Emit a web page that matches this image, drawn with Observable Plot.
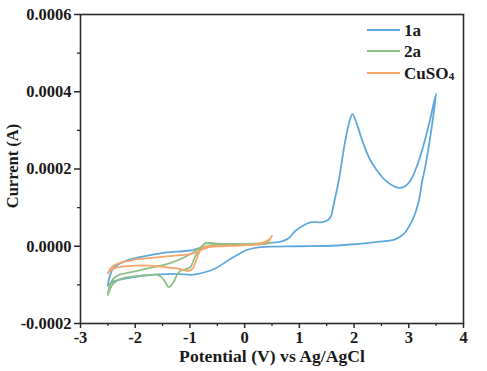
<!DOCTYPE html>
<html>
<head>
<meta charset="utf-8">
<script src="https://cdn.jsdelivr.net/npm/d3@7"></script>
<script src="https://cdn.jsdelivr.net/npm/@observablehq/plot@0.6"></script>
<style>
  html, body { margin: 0; padding: 0; background: #fff; }
</style>
</head>
<body>
<div id="chart"></div>
<script>
// ---- Data (potential in V vs Ag/AgCl, current in units of 1e-4 A) ----
const seriesNames = ["1a", "2a", "CuSO4"];
const seriesColors = ["#5fa8dc", "#8fbe88", "#f6a66c"];

const potential1a = [-2.50, -2.46, -2.39, -2.21, -2.03, -1.60, -1.42, -1.00, -0.81, -0.60, -0.30, 0.00, 0.40, 0.66, 0.80, 0.93, 1.05, 1.20, 1.39, 1.50, 1.57, 1.63, 1.72, 1.84, 1.92, 1.97, 2.03, 2.10, 2.18, 2.30, 2.42, 2.52, 2.61, 2.72, 2.82, 2.92, 3.03, 3.15, 3.27, 3.38, 3.50, 3.40, 3.30, 3.24, 3.18, 3.09, 3.00, 2.91, 2.75, 2.48, 1.69, 1.00, 0.47, 0.20, 0.05, -0.08, -0.26, -0.56, -0.87, -1.00, -1.17, -1.42, -1.60, -2.03, -2.39, -2.50];
const current1a = [-1.02, -0.75, -0.55, -0.40, -0.32, -0.20, -0.16, -0.11, -0.04, 0.00, 0.03, 0.06, 0.08, 0.12, 0.20, 0.40, 0.52, 0.62, 0.62, 0.66, 0.75, 1.10, 1.70, 2.74, 3.25, 3.42, 3.25, 2.95, 2.62, 2.22, 1.96, 1.78, 1.66, 1.56, 1.51, 1.54, 1.70, 2.08, 2.62, 3.22, 3.96, 2.90, 2.05, 1.65, 1.15, 0.75, 0.50, 0.32, 0.18, 0.12, 0.02, 0.00, -0.01, -0.04, -0.09, -0.18, -0.33, -0.59, -0.72, -0.74, -0.72, -0.72, -0.73, -0.80, -0.91, -1.02];

const potential2a = [-2.50, -2.45, -2.33, -2.03, -1.70, -1.42, -1.17, -0.99, -0.81, -0.70, -0.50, -0.20, 0.10, 0.30, 0.50, 0.30, 0.00, -0.30, -0.60, -0.72, -0.80, -0.90, -1.00, -1.17, -1.25, -1.30, -1.39, -1.45, -1.52, -1.60, -1.90, -2.20, -2.33, -2.42, -2.50];
const current2a = [-1.26, -0.95, -0.76, -0.66, -0.55, -0.46, -0.33, -0.20, -0.03, 0.08, 0.07, 0.06, 0.06, 0.07, 0.10, 0.05, 0.04, 0.04, 0.06, 0.08, -0.05, -0.25, -0.55, -0.63, -0.78, -0.93, -1.06, -0.93, -0.80, -0.74, -0.76, -0.82, -0.89, -1.00, -1.26];

const potentialCu = [-2.50, -2.45, -2.39, -2.20, -2.03, -1.70, -1.42, -1.17, -0.95, -0.80, -0.65, -0.40, -0.10, 0.20, 0.35, 0.45, 0.50, 0.42, 0.30, 0.00, -0.40, -0.68, -0.75, -0.81, -0.87, -0.95, -1.02, -1.17, -1.40, -1.72, -2.00, -2.33, -2.45, -2.50];
const currentCu = [-0.70, -0.58, -0.50, -0.40, -0.35, -0.30, -0.26, -0.23, -0.19, -0.10, -0.02, 0.00, 0.02, 0.05, 0.10, 0.18, 0.27, 0.12, 0.06, 0.03, 0.01, 0.00, -0.02, -0.11, -0.30, -0.58, -0.64, -0.59, -0.55, -0.50, -0.50, -0.55, -0.62, -0.70];

const xTicks = [-3, -2, -1, 0, 1, 2, 3, 4];
const xMinorTicks = [-2.5, -1.5, -0.5, 0.5, 1.5, 2.5, 3.5];
const yTicks = [-0.0002, 0, 0.0002, 0.0004, 0.0006];
const yMinorTicks = [-0.0001, 0.0001, 0.0003, 0.0005];

const xLabel = "Potential (V) vs Ag/AgCl";
const yLabel = "Current (A)";

// ---- Build tidy table ----
function toRows(name, xs, ys) {
  return xs.map((v, i) => ({series: name, potential: v, current: ys[i] * 1e-4}));
}
const rows1a = toRows(seriesNames[0], potential1a, current1a);
const rows2a = toRows(seriesNames[1], potential2a, current2a);
const rowsCu = toRows(seriesNames[2], potentialCu, currentCu);

const font = "'Liberation Serif', 'Times New Roman', Times, serif";
const axisColor = "#2a2a2a";
const stretch = 1.07;
const tickText = {fontFamily: font, fontWeight: "bold", fontSize: 16.5, fill: "#1a1a1a"};

const lineOpts = (color) => ({x: "potential", y: "current", stroke: color, strokeWidth: 1.8, curve: "catmull-rom"});

const svg = Plot.plot({
  width: 487,
  height: 371,
  marginLeft: 80,
  marginRight: 24,
  marginTop: 14,
  marginBottom: 48,
  x: {domain: [-3, 4]},
  y: {domain: [-0.0002, 0.0006]},
  style: {fontFamily: font, fontWeight: "bold", fontSize: "16.5px", color: "#1a1a1a", background: "#fff", overflow: "visible"},
  marks: [
    Plot.line(rows1a, lineOpts(seriesColors[0])),
    Plot.line(rows2a, lineOpts(seriesColors[1])),
    Plot.line(rowsCu, lineOpts(seriesColors[2])),
    Plot.frame({stroke: axisColor, strokeWidth: 1.6}),
    Plot.axisY(yTicks, {...tickText, tickSize: 6, tickPadding: 3, strokeWidth: 1.5, stroke: axisColor, tickFormat: d => d.toFixed(4), label: null}),
    Plot.axisY(yMinorTicks, {tickSize: 3, strokeWidth: 1.3, stroke: axisColor, tickFormat: () => "", label: null}),
    Plot.axisX(xTicks, {...tickText, tickSize: 5, tickPadding: 3, strokeWidth: 1.5, stroke: axisColor, tickFormat: d => String(d), label: null}),
    Plot.axisX(xMinorTicks, {tickSize: 3, strokeWidth: 1.3, stroke: axisColor, tickFormat: () => "", label: null})
  ]
});

document.getElementById("chart").appendChild(svg);

// ---- Axis titles ----
const s = d3.select(svg);
s.append("text")
  .attr("transform", `translate(272,362) scale(${stretch},1)`)
  .attr("text-anchor", "middle")
  .attr("font-family", font).attr("font-weight", "bold").attr("font-size", "16.5px")
  .attr("fill", "#1a1a1a")
  .text(xLabel);
s.append("text")
  .attr("transform", "translate(18,166) rotate(-90)")
  .attr("text-anchor", "middle")
  .attr("font-family", font).attr("font-weight", "bold").attr("font-size", "16.5px")
  .attr("fill", "#1a1a1a")
  .text(yLabel);

// ---- Legend (inside top-right) ----
const leg = s.append("g")
  .attr("font-family", font).attr("font-weight", "bold").attr("font-size", "16px")
  .attr("fill", "#1a1a1a").attr("text-anchor", "start");
const legY = [30, 51, 73];
seriesNames.forEach((name, i) => {
  leg.append("line")
    .attr("x1", 367).attr("x2", 400).attr("y1", legY[i]).attr("y2", legY[i])
    .attr("stroke", seriesColors[i]).attr("stroke-width", 1.9);
  const t = leg.append("text")
    .attr("transform", `translate(404,${legY[i]}) scale(${stretch},1)`)
    .attr("dy", "0.35em").attr("text-anchor", "start");
  if (name === "CuSO4") {
    t.append("tspan").text("CuSO");
    t.append("tspan").attr("font-size", "10.5px").attr("dy", "1").text("4");
  } else {
    t.text(name);
  }
});
</script>
</body>
</html>
